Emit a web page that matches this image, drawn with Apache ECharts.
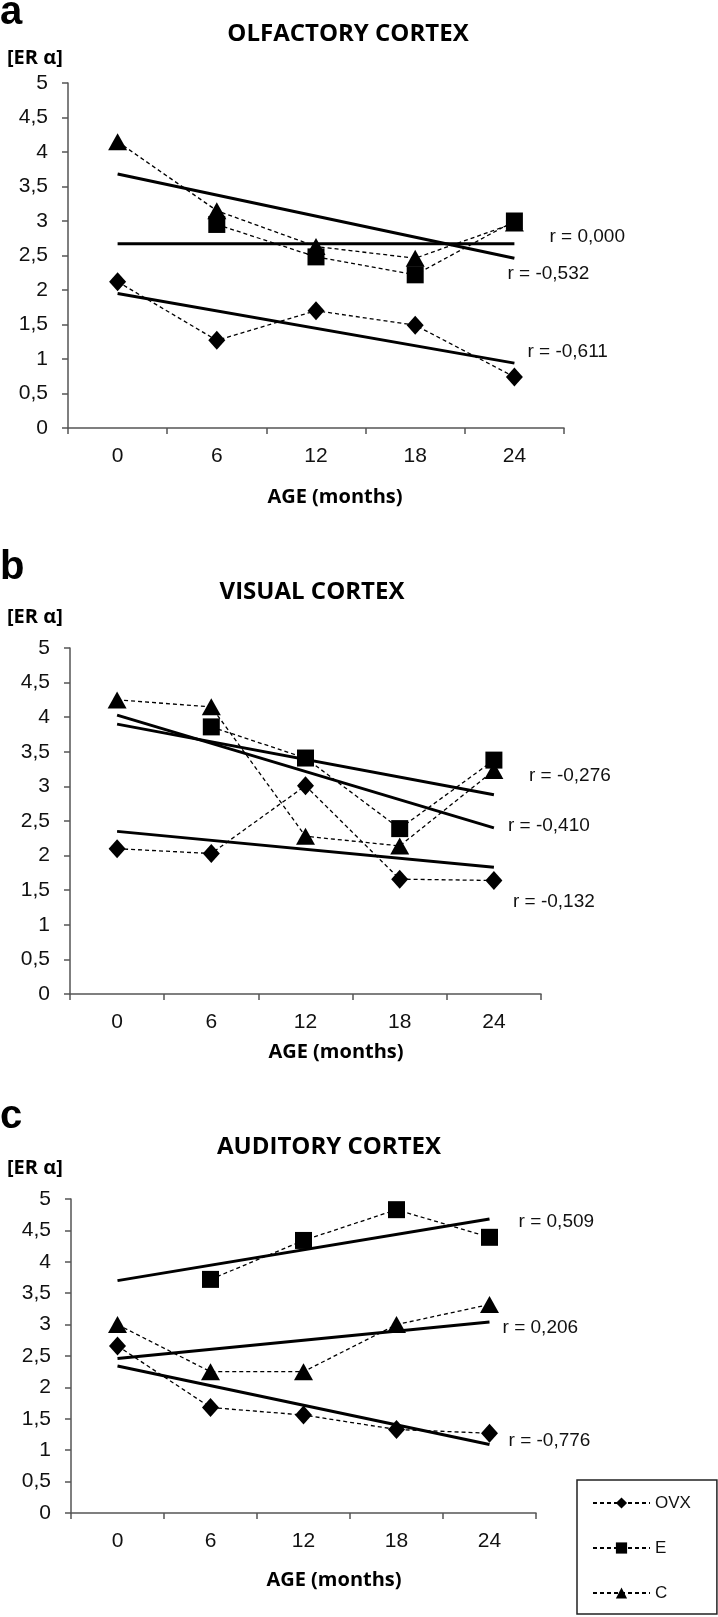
<!DOCTYPE html>
<html>
<head>
<meta charset="utf-8">
<script src="https://cdn.jsdelivr.net/npm/echarts@6/dist/echarts.min.js"></script>
<style>
html,body{margin:0;padding:0;background:#fff;}
#chart{width:718px;height:1617px;}
</style>
</head>
<body>
<div id="chart"></div>
<script>
// ---- data ----
const categories = ['0', '6', '12', '18', '24'];
const panelTitles = ['OLFACTORY CORTEX', 'VISUAL CORTEX', 'AUDITORY CORTEX'];
const panelLetters = ['a', 'b', 'c'];
const groupNames = ['OVX', 'E', 'C'];

// Olfactory cortex
const olfOVX = [2.12, 1.27, 1.70, 1.49, 0.74];
const olfE   = [null, 2.95, 2.48, 2.22, 3.00];
const olfC   = [4.15, 3.15, 2.63, 2.46, 2.97];
const olfTrendOVX = [1.95, 0.94];
const olfTrendE   = [2.67, 2.67];
const olfTrendC   = [3.68, 2.46];
const olfR = ['r = -0,611', 'r = 0,000', 'r = -0,532'];

// Visual cortex
const visOVX = [2.10, 2.03, 3.01, 1.66, 1.64];
const visE   = [null, 3.86, 3.41, 2.39, 3.38];
const visC   = [4.25, 4.15, 2.28, 2.14, 3.23];
const visTrendOVX = [2.35, 1.83];
const visTrendE   = [3.90, 2.88];
const visTrendC   = [4.03, 2.40];
const visR = ['r = -0,132', 'r = -0,276', 'r = -0,410'];

// Auditory cortex
const audOVX = [2.66, 1.68, 1.56, 1.33, 1.27];
const audE   = [null, 3.72, 4.34, 4.83, 4.39];
const audC   = [3.00, 2.25, 2.25, 3.00, 3.32];
const audTrendOVX = [2.34, 1.09];
const audTrendE   = [3.70, 4.68];
const audTrendC   = [2.46, 3.04];
const audR = ['r = -0,776', 'r = 0,509', 'r = 0,206'];

// ---- layout ----
const grids = [
  {left: 68, top: 83, width: 496, height: 345},
  {left: 70, top: 648, width: 471, height: 346},
  {left: 71, top: 1199, width: 465, height: 314}
];
// label offsets for r values [OVX, E, C] per panel
const rOffsets = [
  [[8, -11], [30, -7], [-12, 16]],
  [[14, 34], [30, -19], [9, -2]],
  [[14, -4], [24, 3], [8, 6]]
];

const AX = '#555';
const SANS = '"Liberation Sans", Arial, sans-serif';
const BOLD = '"Open Sans", "Liberation Sans", sans-serif';

function xAxis(i) {
  return {
    type: 'category', gridIndex: i, data: categories, boundaryGap: true,
    axisLine: {lineStyle: {color: AX, width: 1.5}},
    axisTick: {show: true, length: 6, lineStyle: {color: AX, width: 1.5}},
    axisLabel: {fontSize: 21, margin: 18, color: '#111', fontFamily: SANS},
    splitLine: {show: false}
  };
}
function yAxis(i) {
  return {
    type: 'value', gridIndex: i, min: 0, max: 5, interval: 0.5,
    axisLine: {show: true, lineStyle: {color: AX, width: 1.5}},
    axisTick: {show: true, length: 6, lineStyle: {color: AX, width: 1.5}},
    axisLabel: {fontSize: 21, margin: 20, color: '#111', fontFamily: SANS,
      formatter: v => String(v).replace('.', ',')},
    splitLine: {show: false}
  };
}
const symbols = {OVX: ['diamond', [17, 19]], E: ['rect', [17, 17]], C: ['triangle', [19, 17]]};
function dashed(name, data, i) {
  return {
    type: 'line', name: name, xAxisIndex: i, yAxisIndex: i, data: data,
    symbol: symbols[name][0], symbolSize: symbols[name][1], showAllSymbol: true,
    lineStyle: {type: [4, 3], width: 1.3, color: '#000'},
    itemStyle: {color: '#000'}, z: 4, silent: true
  };
}
function trend(vals, i, text, off, key) {
  return {
    type: 'line', name: 'trend' + key + i, xAxisIndex: i, yAxisIndex: i,
    data: [vals[0], null, null, null, {value: vals[1], label: {
      show: true, formatter: text, position: 'right', distance: 5, offset: off,
      fontSize: 19, color: '#111', fontFamily: SANS}}],
    connectNulls: true, symbol: 'circle', symbolSize: 0.1, showSymbol: true,
    lineStyle: {type: 'solid', width: 3, color: '#000'}, itemStyle: {color: '#000'},
    z: 3, silent: true
  };
}

const panelData = [
  [olfOVX, olfE, olfC, olfTrendOVX, olfTrendE, olfTrendC, olfR],
  [visOVX, visE, visC, visTrendOVX, visTrendE, visTrendC, visR],
  [audOVX, audE, audC, audTrendOVX, audTrendE, audTrendC, audR]
];

const series = [];
panelData.forEach((p, i) => {
  series.push(trend(p[3], i, p[6][0], rOffsets[i][0], 'OVX'));
  series.push(trend(p[4], i, p[6][1], rOffsets[i][1], 'E'));
  series.push(trend(p[5], i, p[6][2], rOffsets[i][2], 'C'));
  series.push(dashed('OVX', p[0], i));
  series.push(dashed('C', p[2], i));
  series.push(dashed('E', p[1], i));
});

// text positions
const letterY = [13, 568, 1117];
const titleX = [348, 312, 329];
const titleY = [34, 592, 1147];
const erY = [58, 617, 1168];
const ageX = [335, 336, 334];
const ageY = [497, 1052, 1580];

const graphic = [];
for (let i = 0; i < 3; i++) {
  graphic.push({type: 'text', style: {text: panelLetters[i], x: 0, y: letterY[i],
    font: 'bold 40px "Liberation Sans", Arial, sans-serif', fill: '#000', textVerticalAlign: 'middle'}});
  graphic.push({type: 'text', style: {text: panelTitles[i], x: titleX[i], y: titleY[i],
    font: 'bold 24px ' + BOLD, fill: '#000', textAlign: 'center', textVerticalAlign: 'middle'}});
  graphic.push({type: 'text', style: {text: '[ER α]', x: 7, y: erY[i],
    font: 'bold 20px ' + BOLD, fill: '#000', textVerticalAlign: 'middle'}});
  graphic.push({type: 'text', style: {text: 'AGE (months)', x: ageX[i], y: ageY[i],
    font: 'bold 20px ' + BOLD, fill: '#000', textAlign: 'center', textVerticalAlign: 'middle'}});
}

const chart = echarts.init(document.getElementById('chart'), null, {renderer: 'canvas'});
chart.setOption({
  animation: false,
  backgroundColor: '#fff',
  grid: grids,
  xAxis: [0, 1, 2].map(xAxis),
  yAxis: [0, 1, 2].map(yAxis),
  legend: {
    data: groupNames, orient: 'vertical', left: 577, top: 1480,
    padding: [13, 26, 11, 15], itemGap: 25, itemWidth: 57, itemHeight: 14,
    borderColor: '#222', borderWidth: 1.5, backgroundColor: '#fff',
    textStyle: {fontSize: 17, lineHeight: 20, color: '#111', fontFamily: SANS},
    selectedMode: false
  },
  graphic: graphic,
  series: series
});
</script>
</body>
</html>
